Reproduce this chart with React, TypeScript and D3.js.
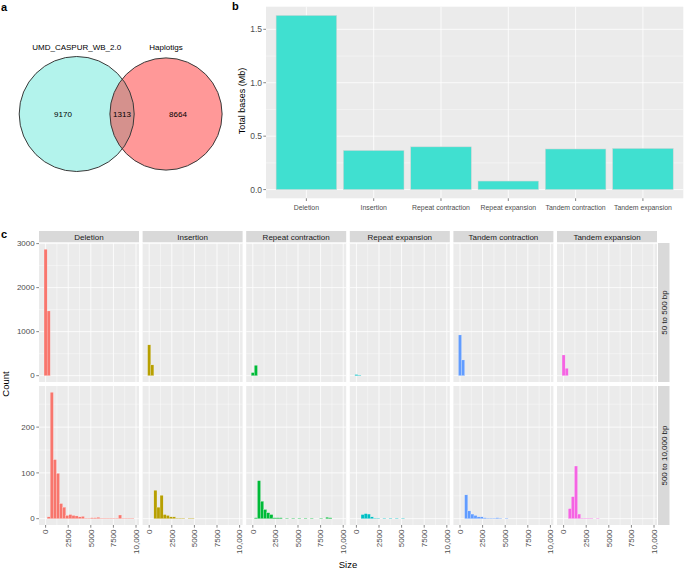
import React from 'react'
import * as d3 from 'd3'

// panel a
const setNames = ['UMD_CASPUR_WB_2.0', 'Haplotigs']
const vennCounts = [9170, 1313, 8664] // left only, both, right only

// panel b
const categories = ['Deletion', 'Insertion', 'Repeat contraction', 'Repeat expansion', 'Tandem contraction', 'Tandem expansion']
const totalBasesMb = [1.63, 0.366, 0.40, 0.08, 0.38, 0.385]

// panel c : histogram bins (ggplot bins = 30 over 50..10,000)
const binOrigin = -171.55
const binWidth = 343.1
const rowLabels = ['50 to 500 bp', '500 to 10,000 bp']
const hueColors = ['#F8766D', '#B79F00', '#00BA38', '#00BFC4', '#619CFF', '#F564E3']
const sizeTicks = [0, 2500, 5000, 7500, 10000]
const sizeTickLabels = ['0', '2500', '5000', '7500', '10,000']

const smallDeletion = [2870, 1470]
const smallInsertion = [700, 245]
const smallRepeatContraction = [70, 235]
const smallRepeatExpansion = [25, 12]
const smallTandemContraction = [925, 357]
const smallTandemExpansion = [470, 168]

const largeDeletion = [0, 4, 276, 129, 99, 33, 25, 7, 9, 7, 6, 4, 5, 1, 1, 2, 2, 3, 1, 1, 1, 1, 1, 1, 8, 1, 1, 1, 1, 0]
const largeInsertion = [0, 0, 62, 25, 51, 9, 7, 4, 4, 1, 1, 1, 0, 1, 1, 0, 0, 0, 0, 0, 0, 0, 0, 0, 0, 0, 0, 0, 0, 0]
const largeRepeatContraction = [0, 2, 83, 38, 20, 13, 9, 2, 2, 2, 0, 1, 0, 1, 0, 1, 0, 1, 0, 1, 0, 0, 1, 0, 3, 2, 0, 0, 0, 0]
const largeRepeatExpansion = [0, 0, 9, 11, 10, 4, 1, 1, 0, 1, 0, 1, 0, 1, 0, 1, 0, 0, 0, 0, 0, 0, 0, 0, 0, 0, 0, 0, 0, 0]
const largeTandemContraction = [0, 0, 52, 17, 10, 7, 4, 4, 2, 1, 1, 1, 2, 1, 0, 1, 0, 0, 0, 0, 0, 0, 0, 0, 0, 0, 0, 0, 0, 0]
const largeTandemExpansion = [0, 0, 22, 48, 115, 10, 1, 1, 1, 1, 0, 1, 0, 0, 0, 0, 0, 0, 0, 0, 0, 0, 0, 0, 0, 0, 0, 0, 0, 0]

const smallRows = [smallDeletion, smallInsertion, smallRepeatContraction, smallRepeatExpansion, smallTandemContraction, smallTandemExpansion]
const largeRows = [largeDeletion, largeInsertion, largeRepeatContraction, largeRepeatExpansion, largeTandemContraction, largeTandemExpansion]

const font = '"Liberation Sans", Arial, Helvetica, sans-serif'
const panelBg = '#EBEBEB'
const stripBg = '#D9D9D9'
const tickCol = '#4D4D4D'

function Venn() {
  const leftTotal = vennCounts[0] + vennCounts[1]
  const rightTotal = vennCounts[2] + vennCounts[1]
  const r = d3.scaleSqrt().domain([0, leftTotal]).range([0, 57.5])
  const cy = 114
  const lx = 76.7
  const rx = 166
  return (
    <g>
      <circle cx={lx} cy={cy} r={r(leftTotal)} fill="#40E0D0" fillOpacity={0.4} />
      <circle cx={rx} cy={cy} r={r(rightTotal)} fill="#FF1A1A" fillOpacity={0.45} />
      <circle cx={lx} cy={cy} r={r(leftTotal)} fill="none" stroke="#3a3a3a" strokeWidth={1} />
      <circle cx={rx} cy={cy} r={r(rightTotal)} fill="none" stroke="#3a3a3a" strokeWidth={1} />
      <text x={lx} y={50} fontSize={8} textAnchor="middle">{setNames[0]}</text>
      <text x={rx} y={50} fontSize={8} textAnchor="middle">{setNames[1]}</text>
      <text x={63} y={116.5} fontSize={8} textAnchor="middle">{vennCounts[0]}</text>
      <text x={122} y={116.5} fontSize={8} textAnchor="middle">{vennCounts[1]}</text>
      <text x={178} y={116.5} fontSize={8} textAnchor="middle">{vennCounts[2]}</text>
    </g>
  )
}

function BarPanel() {
  const left = 266, right = 683.3, top = 6.7, bottom = 198.3
  const ymax = d3.max(totalBasesMb) as number
  const y = d3.scaleLinear().domain([-0.05 * ymax, 1.05 * ymax]).range([bottom, top])
  const x = d3.scaleBand().domain(categories).range([left, right]).paddingInner(0.1).paddingOuter(0.15)
  const bw = x.bandwidth()
  const majors = [0, 0.5, 1.0, 1.5]
  const minors = [0.25, 0.75, 1.25]
  return (
    <g>
      <rect x={left} y={top} width={right - left} height={bottom - top} fill={panelBg} />
      {minors.map(v => <line key={'m' + v} x1={left} x2={right} y1={y(v)} y2={y(v)} stroke="#fff" strokeWidth={0.4} />)}
      {majors.map(v => <line key={'M' + v} x1={left} x2={right} y1={y(v)} y2={y(v)} stroke="#fff" strokeWidth={0.8} />)}
      {categories.map(c => <line key={'v' + c} x1={x(c)! + bw / 2} x2={x(c)! + bw / 2} y1={top} y2={bottom} stroke="#fff" strokeWidth={0.8} />)}
      {categories.map((c, i) => (
        <rect key={c} x={x(c)} y={y(totalBasesMb[i])} width={bw} height={y(0) - y(totalBasesMb[i])}
          fill="#40E0D0" stroke="#d4d4d4" strokeWidth={0.5} />
      ))}
      {majors.map(v => (
        <g key={'t' + v}>
          <line x1={left - 2.7} x2={left} y1={y(v)} y2={y(v)} stroke="#333" strokeWidth={0.6} />
          <text x={left - 4} y={y(v)} dy="0.35em" fontSize={8.5} fill={tickCol} textAnchor="end">{d3.format('.1f')(v)}</text>
        </g>
      ))}
      {categories.map(c => (
        <g key={'x' + c}>
          <line x1={x(c)! + bw / 2} x2={x(c)! + bw / 2} y1={bottom} y2={bottom + 2.7} stroke="#333" strokeWidth={0.6} />
          <text x={x(c)! + bw / 2} y={209.5} fontSize={6.9} fill={tickCol} textAnchor="middle">{c}</text>
        </g>
      ))}
      <text transform={`translate(245,101) rotate(-90)`} fontSize={9} textAnchor="middle">Total bases (Mb)</text>
    </g>
  )
}

function HistPanels() {
  const panelW = 100
  const step = 103.6
  const x0 = 39
  const rowTops = [243, 386]
  const rowH = 139
  const rows = [smallRows, largeRows]
  const xs = d3.scaleLinear().domain([-730, 10330]).range([0, panelW])
  const xMinor = [1250, 3750, 6250, 8750]

  return (
    <g>
      {categories.map((c, i) => (
        <g key={'strip' + c}>
          <rect x={x0 + i * step} y={231} width={panelW} height={11.3} fill={stripBg} />
          <text x={x0 + i * step + panelW / 2} y={236.7} dy="0.35em" fontSize={8} fill="#1A1A1A" textAnchor="middle">{c}</text>
        </g>
      ))}
      {rows.map((rowData, r) => {
        const top = rowTops[r]
        const bottom = top + rowH
        const ymax = d3.max(rowData.map(d => d3.max(d) as number)) as number
        const y = d3.scaleLinear().domain([-0.05 * ymax, 1.05 * ymax]).range([bottom, top])
        const majors = y.ticks(r === 0 ? 4 : 3)
        const step2 = majors[1] - majors[0]
        const minors = majors.map(v => v + step2 / 2).filter(v => y(v) > top)
        return (
          <g key={'row' + r}>
            {categories.map((c, i) => {
              const px = x0 + i * step
              return (
                <g key={c} transform={`translate(${px},0)`}>
                  <rect x={0} y={top} width={panelW} height={rowH} fill={panelBg} />
                  {minors.map(v => <line key={'hm' + v} x1={0} x2={panelW} y1={y(v)} y2={y(v)} stroke="#fff" strokeWidth={0.4} />)}
                  {xMinor.map(v => <line key={'vm' + v} x1={xs(v)} x2={xs(v)} y1={top} y2={bottom} stroke="#fff" strokeWidth={0.4} />)}
                  {majors.map(v => <line key={'hM' + v} x1={0} x2={panelW} y1={y(v)} y2={y(v)} stroke="#fff" strokeWidth={0.8} />)}
                  {sizeTicks.map(v => <line key={'vM' + v} x1={xs(v)} x2={xs(v)} y1={top} y2={bottom} stroke="#fff" strokeWidth={0.8} />)}
                  {rowData[i].map((n, k) => {
                    if (n <= 0) return null
                    const e = binOrigin + k * binWidth
                    return (
                      <rect key={k} x={xs(e)} y={y(n)} width={xs(e + binWidth) - xs(e)} height={y(0) - y(n)}
                        fill={hueColors[i]} stroke="#fff" strokeOpacity={0.55} strokeWidth={0.35} />
                    )
                  })}
                  {r === 1 && sizeTicks.map((v, j) => (
                    <g key={'xt' + v}>
                      <line x1={xs(v)} x2={xs(v)} y1={bottom} y2={bottom + 2.7} stroke="#333" strokeWidth={0.6} />
                      <text transform={`translate(${xs(v)},${bottom + 4.5}) rotate(-90)`} dy="0.35em" fontSize={8} fill={tickCol} textAnchor="end">{sizeTickLabels[j]}</text>
                    </g>
                  ))}
                </g>
              )
            })}
            {majors.map(v => (
              <g key={'yt' + v}>
                <line x1={x0 - 2.7} x2={x0} y1={y(v)} y2={y(v)} stroke="#333" strokeWidth={0.6} />
                <text x={x0 - 4.3} y={y(v)} dy="0.35em" fontSize={8} fill={tickCol} textAnchor="end">{d3.format('d')(v)}</text>
              </g>
            ))}
            <rect x={658} y={top} width={11.5} height={rowH} fill={stripBg} />
            <text transform={`translate(${663.75},${top + rowH / 2}) rotate(-90)`} dy="0.35em" fontSize={8} fill="#1A1A1A" textAnchor="middle">{rowLabels[r]}</text>
          </g>
        )
      })}
      <text transform="translate(8.5,384) rotate(-90)" fontSize={9.5} textAnchor="middle">Count</text>
      <text x={348} y={568} fontSize={9.5} textAnchor="middle">Size</text>
    </g>
  )
}

export default function App() {
  return (
    <svg width={685} height={570} style={{ position: 'absolute', left: 0, top: 0, background: '#fff' }} fontFamily={font}>
      <rect width={685} height={570} fill="#fff" />
      <Venn />
      <BarPanel />
      <HistPanels />
      <text x={1} y={11} fontSize={11} fontWeight="bold">a</text>
      <text x={232} y={10} fontSize={11} fontWeight="bold">b</text>
      <text x={1} y={237.5} fontSize={11} fontWeight="bold">c</text>
    </svg>
  )
}
